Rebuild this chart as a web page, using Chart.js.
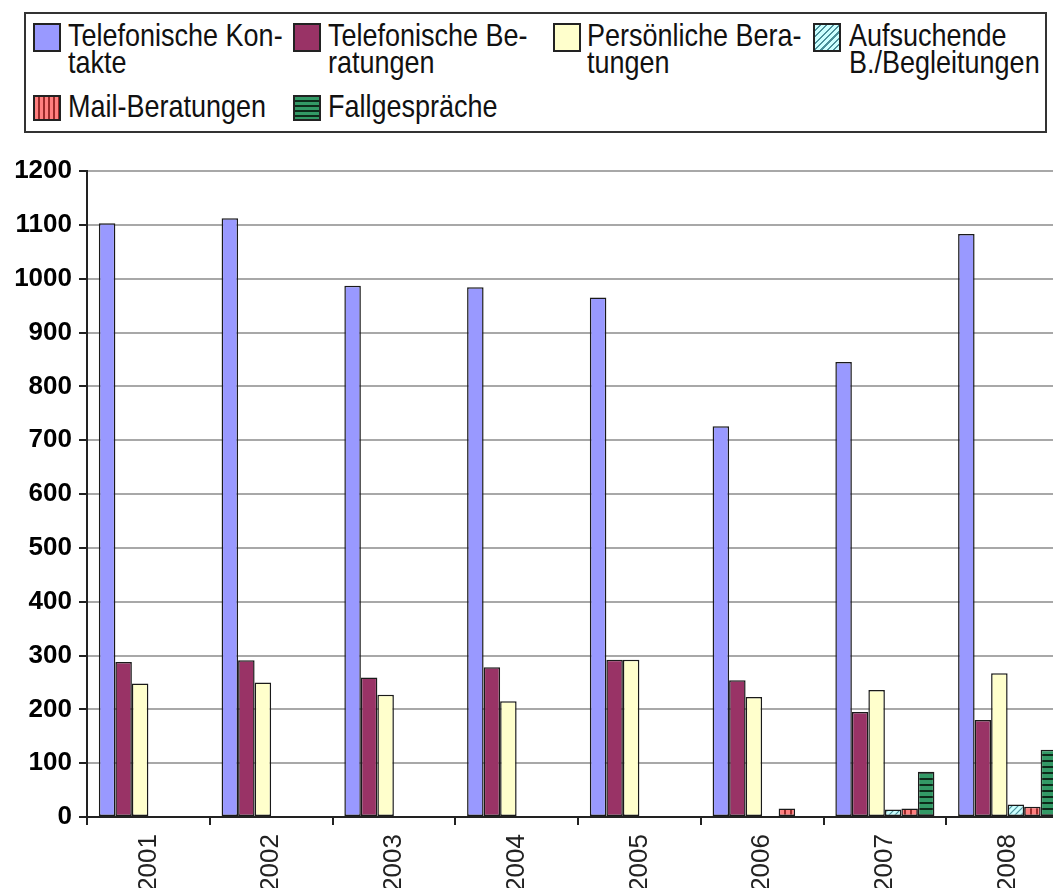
<!DOCTYPE html>
<html>
<head>
<meta charset="utf-8">
<script src="https://cdn.jsdelivr.net/npm/chart.js@4/dist/chart.umd.min.js"></script>
<style>
  html, body { margin: 0; padding: 0; background: #fff; overflow: hidden; }
  body { width: 1053px; height: 888px; position: relative; }
  #chart { position: absolute; left: 0; top: 0; }
  #legend {
    position: absolute; left: 24px; top: 12px; width: 1019px; height: 117px;
    border: 2px solid #333; background: #fff;
    font-family: "Liberation Sans", Arial, sans-serif; font-size: 27px; color: #111;
  }
  .item { position: absolute; }
  .item .sw { position: absolute; left: 0; width: 24px; height: 25px; border: 2px solid #222; }
  .item .tx { position: absolute; white-space: nowrap; line-height: 24px; transform: scaleY(1.14); transform-origin: 0 0; }
</style>
</head>
<body>
<canvas id="chart" width="1069" height="888"></canvas>
<div id="legend"></div>
<script>
// Data
const years = ["2001", "2002", "2003", "2004", "2005", "2006", "2007", "2008"];
const telKontakte = [1103, 1112, 987, 984, 965, 726, 845, 1083];
const telBeratungen = [288, 291, 259, 278, 292, 254, 195, 180];
const persBeratungen = [248, 250, 227, 215, 292, 223, 236, 267];
const aufsuchende = [null, null, null, null, null, null, 14, 23];
const mailBeratungen = [null, null, null, null, null, 16, 16, 19];
const fallgespraeche = [null, null, null, null, null, null, 84, 125];
const yTicks = [0, 100, 200, 300, 400, 500, 600, 700, 800, 900, 1000, 1100, 1200];

// Patterns
function makePattern(size, draw) {
  const c = document.createElement("canvas");
  c.width = size; c.height = size;
  draw(c.getContext("2d"), size);
  return c.getContext("2d").createPattern(c, "repeat");
}
const hatchPattern = makePattern(6, (ctx, s) => {
  ctx.fillStyle = "#ccffff"; ctx.fillRect(0, 0, s, s);
  ctx.strokeStyle = "#4a8f99"; ctx.lineWidth = 1.2;
  ctx.beginPath();
  ctx.moveTo(0, s); ctx.lineTo(s, 0);
  ctx.moveTo(-1, 1); ctx.lineTo(1, -1);
  ctx.moveTo(s - 1, s + 1); ctx.lineTo(s + 1, s - 1);
  ctx.stroke();
});
const vertPattern = makePattern(6, (ctx, s) => {
  ctx.fillStyle = "#ff8080"; ctx.fillRect(0, 0, s, s);
  ctx.fillStyle = "#9b2a2a"; ctx.fillRect(4, 0, 2, s);
});
const horizPattern = makePattern(6, (ctx, s) => {
  ctx.fillStyle = "#339966"; ctx.fillRect(0, 0, s, s);
  ctx.fillStyle = "#0d2a1a"; ctx.fillRect(0, 4, s, 2);
});

const series = [
  { label: "Telefonische Kontakte", lines: ["Telefonische Kon-", "takte"], data: telKontakte, bg: "#9999ff", css: "#9999ff" },
  { label: "Telefonische Beratungen", lines: ["Telefonische Be-", "ratungen"], data: telBeratungen, bg: "#993366", css: "#993366" },
  { label: "Persönliche Beratungen", lines: ["Persönliche Bera-", "tungen"], data: persBeratungen, bg: "#ffffcc", css: "#ffffcc" },
  { label: "Aufsuchende B./Begleitungen", lines: ["Aufsuchende", "B./Begleitungen"], data: aufsuchende, bg: hatchPattern,
    css: "repeating-linear-gradient(-45deg, #ccffff 0 3px, #4a8f99 3px 4.5px)" },
  { label: "Mail-Beratungen", lines: ["Mail-Beratungen"], data: mailBeratungen, bg: vertPattern,
    css: "repeating-linear-gradient(90deg, #ff8080 0 3px, #9b2a2a 3px 5px)" },
  { label: "Fallgespräche", lines: ["Fallgespräche"], data: fallgespraeche, bg: horizPattern,
    css: "repeating-linear-gradient(180deg, #339966 0 3px, #0d2a1a 3px 5px)" }
];

// HTML legend (multi-line labels)
const legendPos = [
  { x: 7, y: 9, tx: 42 }, { x: 267, y: 9, tx: 302 }, { x: 527, y: 9, tx: 561 }, { x: 787, y: 9, tx: 823 },
  { x: 7, y: 80, tx: 42 }, { x: 267, y: 80, tx: 302 }
];
const legendDiv = document.getElementById("legend");
series.forEach((s, i) => {
  const p = legendPos[i];
  const item = document.createElement("div");
  item.className = "item";
  item.style.left = p.x + "px";
  item.style.top = p.y + "px";
  const sw = document.createElement("div");
  sw.className = "sw";
  sw.style.background = s.css;
  if (i >= 4) { sw.style.top = "1px"; sw.style.height = "22px"; } else { sw.style.top = "0px"; }
  item.appendChild(sw);
  const tx = document.createElement("div");
  tx.className = "tx";
  tx.style.left = (p.tx - p.x) + "px";
  tx.style.top = "-1px";
  tx.innerHTML = s.lines.join("<br>");
  item.appendChild(tx);
  legendDiv.appendChild(item);
});

// Chart
new Chart(document.getElementById("chart"), {
  type: "bar",
  data: {
    labels: years,
    datasets: series.map((s) => ({
      label: s.label,
      data: s.data,
      backgroundColor: s.bg,
      borderColor: "#1a1a1a",
      borderWidth: 1.5,
      borderSkipped: false,
      barPercentage: 1.0,
      categoryPercentage: 0.807
    }))
  },
  options: {
    responsive: false,
    animation: false,
    devicePixelRatio: 1,
    layout: { padding: { top: 171, left: 0, right: 0, bottom: 0 } },
    plugins: { legend: { display: false }, tooltip: { enabled: false } },
    scales: {
      x: {
        offset: true,
        grid: { offset: true, drawOnChartArea: false, drawTicks: true, tickLength: 8, tickColor: "#222", lineWidth: 2 },
        border: { color: "#222", width: 2 },
        ticks: {
          autoSkip: false, minRotation: 90, maxRotation: 90, padding: 9,
          color: "#222", font: { family: "'Liberation Sans', Arial, sans-serif", size: 26 }
        },
        afterFit: (scale) => { scale.height = 71; }
      },
      y: {
        min: 0, max: 1200,
        afterBuildTicks: (scale) => { scale.ticks = yTicks.map((v) => ({ value: v })); },
        grid: { color: "#a8a8a8", lineWidth: 2, tickLength: 8, tickColor: "#222" },
        border: { color: "#222", width: 2 },
        ticks: {
          padding: 7, color: "#000",
          callback: (v) => String(v),
          font: { family: "'Liberation Sans', Arial, sans-serif", size: 26, weight: "bold" }
        },
        afterFit: (scale) => { scale.width = 87; }
      }
    }
  }
});
</script>
</body>
</html>
